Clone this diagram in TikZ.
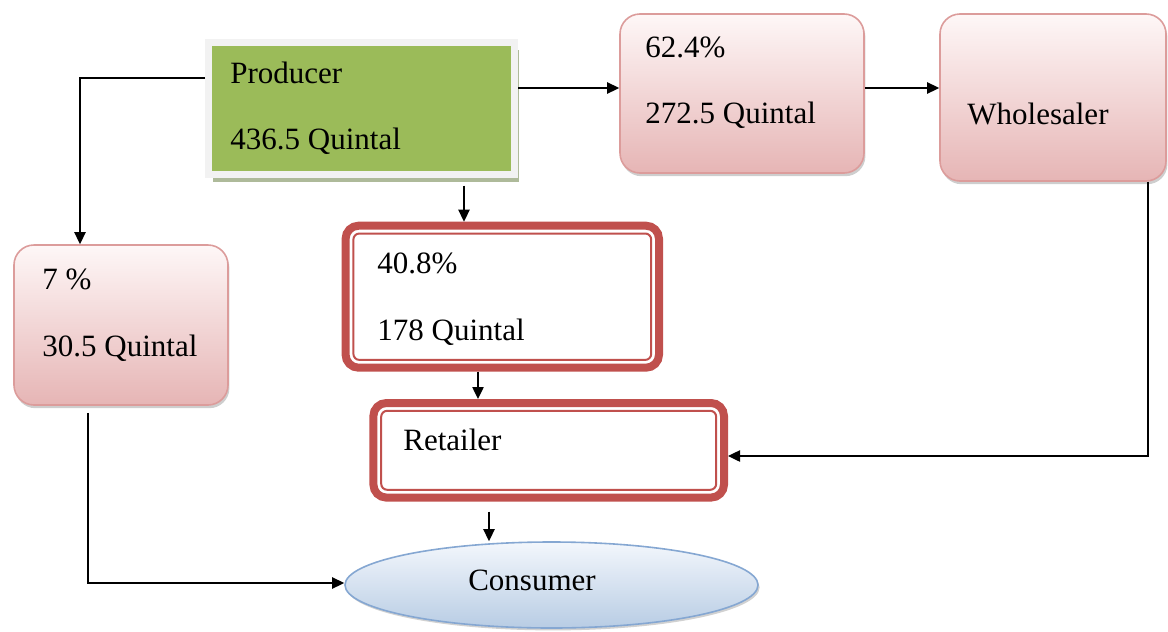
\documentclass[tikz,border=0pt]{standalone}
\usepackage{fontspec}
\setmainfont{Liberation Serif}
\usetikzlibrary{arrows.meta,shadows,calc,shapes.geometric}
\definecolor{pinkA}{HTML}{FEF7F7}
\definecolor{pinkB}{HTML}{E6B5B5}
\definecolor{pinkD}{HTML}{DC9C9B}
\definecolor{redD}{HTML}{C0504D}
\definecolor{oliveF}{HTML}{9BBB59}
\definecolor{frameC}{HTML}{F2F2F2}
\definecolor{oliveS}{HTML}{AEBA9A}
\definecolor{blueA}{HTML}{F3F7FC}
\definecolor{blueB}{HTML}{B8CCE4}
\definecolor{blueD}{HTML}{85A7D2}
\begin{document}
\begin{tikzpicture}[x=0.5pt,y=-0.5pt,
  lbl/.style={anchor=base west,inner sep=0pt,font=\fontsize{15.5}{18}\selectfont},
  pinkbox/.style={rectangle,rounded corners=10pt,draw=pinkD,line width=0.8pt,
    top color=pinkA,bottom color=pinkB,inner sep=0pt,
    drop shadow={shadow xshift=0.7pt,shadow yshift=-1.6pt,opacity=0.35,fill=black!55}},
  redbox/.style={rectangle,rounded corners=6.5pt,draw=redD,line width=4pt,fill=white,inner sep=0pt},
  redthin/.style={draw=redD,line width=1pt,rounded corners=3pt},
  conn/.style={draw=black,line width=0.9pt,-{Triangle[length=6pt,width=5.6pt]}},
]
\useasboundingbox (0,0) rectangle (1168,632);

% boxes
\node[rectangle,draw=frameC,line width=3.5pt,fill=oliveF,inner sep=0pt,
      minimum width=153pt,minimum height=66pt,
      drop shadow={shadow xshift=2.3pt,shadow yshift=-4pt,opacity=1,fill=oliveS}]
      (prod) at (361.5,108) {};
\node[pinkbox,minimum width=122pt,minimum height=79.5pt] (p624) at (742,93.5) {};
\node[pinkbox,minimum width=113pt,minimum height=83.5pt] (whole) at (1053,97.5) {};
\node[pinkbox,minimum width=107pt,minimum height=80pt] (p7) at (121,325) {};
\node[redbox,minimum width=156.7pt,minimum height=71pt] (p408) at (502.3,296.7) {};
\draw[redthin] ($(p408.north west)+(11.8,11.8)$) rectangle ($(p408.south east)+(-11.8,-11.8)$);
\node[redbox,minimum width=175.3pt,minimum height=47.3pt] (retail) at (548.7,450.3) {};
\draw[redthin] ($(retail.north west)+(11.8,11.8)$) rectangle ($(retail.south east)+(-11.8,-11.8)$);
\node[ellipse,draw=blueD,line width=0.8pt,top color=blueA,bottom color=blueB,inner sep=0pt,
      minimum width=206.5pt,minimum height=43pt,
      drop shadow={shadow xshift=0.8pt,shadow yshift=-1.2pt,opacity=0.3,fill=black!60}]
      (cons) at (551.5,585) {};

% texts
\node[lbl] (tprod) at (230,83) {Producer};
\node[lbl] (tprodq) at (230,149) {436.5 Quintal};
\node[lbl] (t624) at (645,57) {62.4\%};
\node[lbl] (t624q) at (645,123) {272.5 Quintal};
\node[lbl] (twhole) at (967,124) {Wholesaler};
\node[lbl] (t7) at (42,289) {7 \%};
\node[lbl] (t7q) at (42,356) {30.5 Quintal};
\node[lbl] (t408) at (377,273) {40.8\%};
\node[lbl] (t408q) at (377,340) {178 Quintal};
\node[lbl] (tret) at (403,450) {Retailer};
\node[lbl,anchor=base] (tcons) at (532,590) {Consumer};

% connectors
\coordinate (k1) at (80,78);
\coordinate (k2) at (0,88);
\coordinate (k3) at (464,0);
\coordinate (k4) at (478,0);
\coordinate (k5) at (1148,456);
\coordinate (k6) at (489,0);
\coordinate (k7) at (88,583);
\draw[conn] (prod.west |- k1) -| (p7.north -| k1);
\draw[conn] (prod.east |- k2) -- (p624.west |- k2);
\draw[conn] (p624.east |- k2) -- (whole.west |- k2);
\draw[conn,shorten <=4pt] (prod.south -| k3) -- (p408.north -| k3);
\draw[conn] (p408.south -| k4) -- (retail.north -| k4);
\draw[conn] (whole.south -| k5) |- (retail.east |- k5);
\draw[conn,shorten <=5pt] (retail.south -| k6) -- (cons.north -| k6);
\draw[conn,shorten <=3.5pt] (p7.south -| k7) |- (cons.west |- k7);
\end{tikzpicture}
\end{document}
